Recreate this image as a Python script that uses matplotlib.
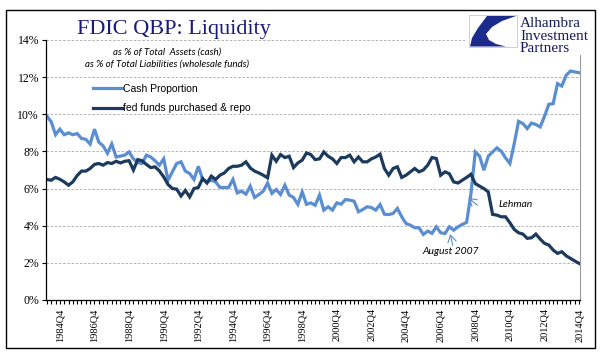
#! /usr/bin/env python

# FDIC QBP liquidity chart: cash share vs fed funds / repo share
import numpy as np
import matplotlib
matplotlib.use('Agg')
import matplotlib.pyplot as plt
from matplotlib.patches import Rectangle, Polygon

# quarterly data 1984Q1 .. 2014Q4 (percent)
cash = [9.9, 9.6, 8.9, 9.2, 8.9, 9.0, 8.9, 8.96, 8.7, 8.65, 8.4, 9.2, 8.5, 8.3, 7.9, 8.4,
        7.7, 7.75, 7.8, 7.97, 7.6, 7.4, 7.35, 7.8, 7.7, 7.5, 7.26, 7.6, 6.45, 6.9, 7.35,
        7.44, 6.94, 6.81, 6.49, 7.2, 6.49, 6.36, 6.45, 6.36, 6.06, 6.06, 6.06, 6.49, 5.77, 5.86,
        5.7, 6.13, 5.52, 5.68, 5.86, 6.3, 5.74, 5.95, 5.68, 6.18, 5.65, 5.52, 5.15, 5.82, 5.15, 5.23,
        5.1, 5.65, 4.84, 5.02, 4.84, 5.23, 5.16, 5.41, 5.38, 5.32, 4.75, 4.87, 5.02, 4.98, 4.84,
        5.14, 4.62, 4.6, 4.66, 4.93, 4.48, 4.12, 4.03, 3.89, 3.89, 3.53, 3.71, 3.59, 3.94, 3.62,
        3.58, 3.94, 3.76, 3.94, 4.07, 4.18, 5.73, 7.97, 7.74, 6.99, 7.74, 7.97, 8.19, 8.01, 7.65,
        7.35, 8.42, 9.62, 9.5, 9.23, 9.53, 9.45, 9.32, 9.89, 10.54, 10.57, 11.65, 11.52, 12.1,
        12.33, 12.28, 12.24]
fedfunds = [6.49, 6.45, 6.6, 6.5, 6.36, 6.18, 6.36, 6.7, 6.94, 6.94, 7.08, 7.3, 7.35, 7.26, 7.4,
            7.35, 7.47, 7.38, 7.47, 7.5, 7.0, 7.56, 7.5, 7.3, 7.13, 7.17, 6.95, 6.63, 6.22, 6.0, 5.97,
            5.6, 5.9, 5.55, 6.0, 6.06, 6.54, 6.3, 6.67, 6.49, 6.72, 6.84, 7.08, 7.2, 7.2, 7.26,
            7.44, 7.11, 6.94, 6.84, 6.72, 6.58, 7.8, 7.47, 7.83, 7.67, 7.74, 7.13, 7.38, 7.53, 7.92, 7.83,
            7.56, 7.6, 7.97, 7.74, 7.6, 7.35, 7.67, 7.67, 7.8, 7.44, 7.7, 7.44, 7.44, 7.6, 7.7,
            7.85, 7.08, 6.72, 7.08, 7.17, 6.6, 6.72, 6.9, 7.08, 6.9, 7.0, 7.26, 7.67, 7.62, 6.72,
            6.9, 6.8, 6.36, 6.3, 6.45, 6.6, 6.77, 6.27, 6.13, 6.0, 5.82, 4.61, 4.57, 4.48, 4.48,
            4.16, 3.8, 3.62, 3.55, 3.32, 3.35, 3.55, 3.28, 3.05, 2.96, 2.69, 2.51, 2.6, 2.38, 2.24,
            2.1, 1.97]
quarters = ['%dQ%d' % (1984 + i // 4, i % 4 + 1) for i in range(len(cash))]
yticks = [0, 2, 4, 6, 8, 10, 12, 14]

light = '#5A8ED0'
dark = '#1B3A5E'
navy = '#1a1a78'

W, H = 601, 361
def fx(x):
    return x / W
def fy(y):
    return 1 - y / H

fig = plt.figure(figsize=(6.01, 3.61), dpi=100)
ax = fig.add_axes([fx(46), fy(300), fx(580) - fx(46), fy(40) - fy(300)])

x = np.arange(len(cash))
ax.plot(x, cash, color=light, lw=2.3, label='Cash Proportion', solid_joinstyle='miter')
ax.plot(x, fedfunds, color=dark, lw=2.3, label='fed funds purchased & repo', solid_joinstyle='miter')

ax.set_xlim(-0.2, len(cash) - 0.8)
ax.set_ylim(0, 14)
ax.set_yticks(yticks)
ax.set_yticklabels(['%d%%' % v for v in yticks], family='Liberation Serif', fontsize=8.5)
ax.set_xticks(x[3::8])
ax.set_xticklabels(quarters[3::8], rotation=90, family='Liberation Serif', fontsize=7.5)
ax.set_xticks(x, minor=True)
ax.tick_params(axis='x', which='both', length=3, width=0.8, pad=3)
ax.tick_params(axis='y', length=3, width=0.8, pad=2)
ax.grid(axis='y', color='#a8a8a8', linestyle=(0, (3, 2)), lw=0.6)
ax.set_axisbelow(True)
ax.spines['top'].set_visible(False)
ax.spines['right'].set_color('#9a9a9a')
ax.spines['left'].set_linewidth(0.9)
ax.spines['bottom'].set_linewidth(0.9)

leg = ax.legend(loc='upper left', bbox_to_anchor=(fx(93), fy(84)), bbox_transform=fig.transFigure,
                frameon=False, borderpad=0, borderaxespad=0, handlelength=2.8, handletextpad=0.1,
                labelspacing=0.9, prop={'family': 'Liberation Sans', 'size': 7.5})

# subtitle lines
fig.text(fx(167), fy(52), 'as % of Total  Assets (cash)', ha='center', va='center',
         family='Lato', style='italic', fontsize=7)
fig.text(fx(167), fy(64), 'as % of Total Liabilities (wholesale funds)', ha='center', va='center',
         family='Lato', style='italic', fontsize=7)

# title
fig.text(fx(77), fy(34), 'FDIC QBP: Liquidity', ha='left', va='baseline',
         family='Liberation Serif', fontsize=16, color=navy)

# annotations
arrow = dict(arrowstyle='->,head_length=0.5,head_width=0.3', color=light, lw=0.8,
             shrinkA=0, shrinkB=0)
ax.annotate('', xy=(97.4, 5.5), xytext=(99.5, 5.1), arrowprops=arrow)
ax.text(104.4, 5.15, 'Lehman', family='Lato', style='italic', fontsize=7.5, va='center')
ax.annotate('', xy=(93.2, 3.55), xytext=(93.8, 2.95), arrowprops=arrow)
ax.text(93.3, 2.6, 'August 2007', family='Lato', style='italic', fontsize=7.5,
        va='center', ha='center')

# logo block
fig.add_artist(Rectangle((fx(465), fy(55)), fx(595) - fx(465), fy(11) - fy(55),
                         transform=fig.transFigure, facecolor='white', edgecolor='none', zorder=5))
fig.add_artist(Rectangle((fx(469), fy(47)), fx(517) - fx(469), fy(15) - fy(47),
                         transform=fig.transFigure, facecolor='white', edgecolor='#c8c8c8',
                         lw=0.6, zorder=6))
shape = [(487, 16), (516, 16), (502, 21), (492, 27), (486, 34), (489, 40), (496, 44),
         (506, 46.5), (470, 46.5), (472, 38), (478, 28)]
fig.add_artist(Polygon([(fx(a), fy(b)) for a, b in shape], closed=True, transform=fig.transFigure,
                       facecolor='#1c2a8c', edgecolor='none', zorder=7))
for i, word in enumerate(['Alhambra', 'Investment', 'Partners']):
    fig.text(fx(520), fy(27 + 12.5 * i), word, ha='left', va='baseline', family='Liberation Serif',
             fontsize=11, color='#1b1b5e', zorder=8)

# outer frame
fig.add_artist(Rectangle((fx(6), fy(348)), fx(595) - fx(6), fy(10) - fy(348),
                         transform=fig.transFigure, fill=False, edgecolor='black', lw=1.0, zorder=9))

fig.savefig('out.png', dpi=100)
